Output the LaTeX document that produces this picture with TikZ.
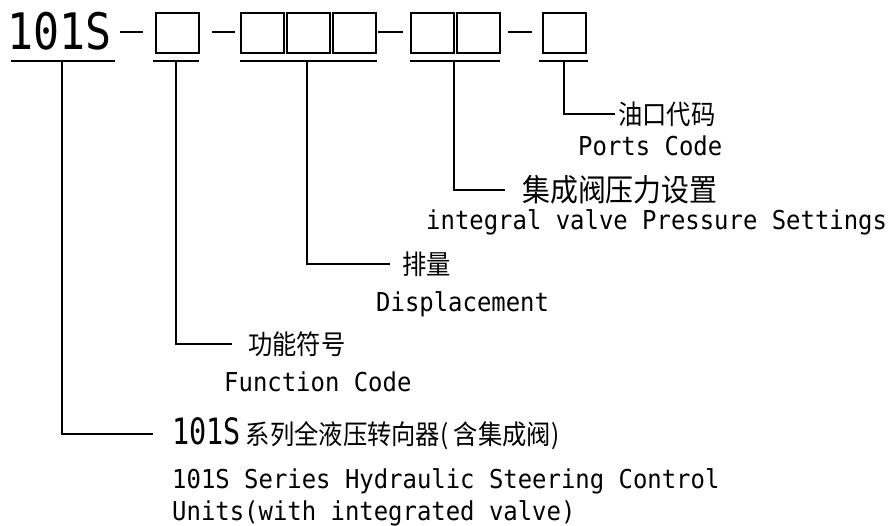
\documentclass[tikz,border=0pt]{standalone}
\usepackage{graphicx}
\usepackage{fontspec}
\setmonofont{DejaVu Sans Mono}[FakeStretch=0.92]
\newfontfamily\cjk{Noto Sans CJK SC}[FakeStretch=0.9]
\usetikzlibrary{positioning}

\newcommand\tallcode[2]{\scalebox{1}[#1]{#2}}

\tikzset{
  codebox/.style={draw, line width=1.8pt, minimum width=43pt, minimum height=40pt, inner sep=0pt, anchor=north west},
  lead/.style={line width=1.4pt},
  cnlabel/.style={font=\cjk\fontsize{27}{27}\selectfont, inner sep=0pt},
  enlabel/.style={font=\ttfamily\fontsize{26}{26}\selectfont, inner sep=0pt, anchor=base west},
}

\begin{document}
\begin{tikzpicture}[x=1pt, y=-1pt]
    \useasboundingbox (0,0) rectangle (890,526);
    % model code
    \node[enlabel, font=\ttfamily\fontsize{47}{47}\selectfont] (series) at (7,50) {\tallcode{1.07}{101S}};
    \foreach \x/\n in {155/b1, 240/b2, 286/b3, 332/b4, 410/b5, 456/b6, 542/b7}
        \node[codebox] (\n) at (\x,12) {};
    \foreach \a/\b in {120/143, 212/235, 378/403, 508/532}
        \draw[lead] (\a,32) -- (\b,32);
    \foreach \a/\b in {11/115, 153/199, 240/377, 410/500, 539/588}
        \draw[lead] (\a,61) -- (\b,61);

    % leaders
    \coordinate (t1) at (62,61);
    \coordinate (t2) at (176,61);
    \coordinate (t3) at (307,61);
    \coordinate (t4) at (454,61);
    \coordinate (t5) at (564,61);
    \coordinate (e1) at (153,434);
    \coordinate (e2) at (232,344);
    \coordinate (e3) at (390,264);
    \coordinate (e4) at (505,190);
    \coordinate (e5) at (615,114);
    \draw[lead] (t1) |- (e1);
    \draw[lead] (t2) |- (e2);
    \draw[lead] (t3) |- (e3);
    \draw[lead] (t4) |- (e4);
    \draw[lead] (t5) |- (e5);

    % labels
    \node[cnlabel, right=3pt of e5] (ports) {油口代码};
    \node[enlabel] (portsen) at (578,156) {Ports Code};
    \node[cnlabel, font=\cjk\fontsize{31}{31}\selectfont, right=17pt of e4] (valve) {集成阀压力设置};
    \node[enlabel] (valveen) at (426,230) {integral valve Pressure Settings};
    \node[cnlabel, right=12pt of e3] (disp) {排量};
    \node[enlabel] (dispen) at (376,311) {Displacement};
    \node[cnlabel, right=16pt of e2] (func) {功能符号};
    \node[enlabel] (funcen) at (224,391) {Function Code};
    \node[cnlabel, right=19pt of e1] (name) {{\ttfamily\fontsize{31}{31}\selectfont\tallcode{1.17}{101S}}\hspace{5pt}系列全液压转向器( 含集成阀)};
    \node[enlabel] (nameen) at (172,488) {101S Series Hydraulic Steering Control};
    \node[enlabel] (nameen2) at (172,520) {Units(with integrated valve)};
\end{tikzpicture}
\end{document}
